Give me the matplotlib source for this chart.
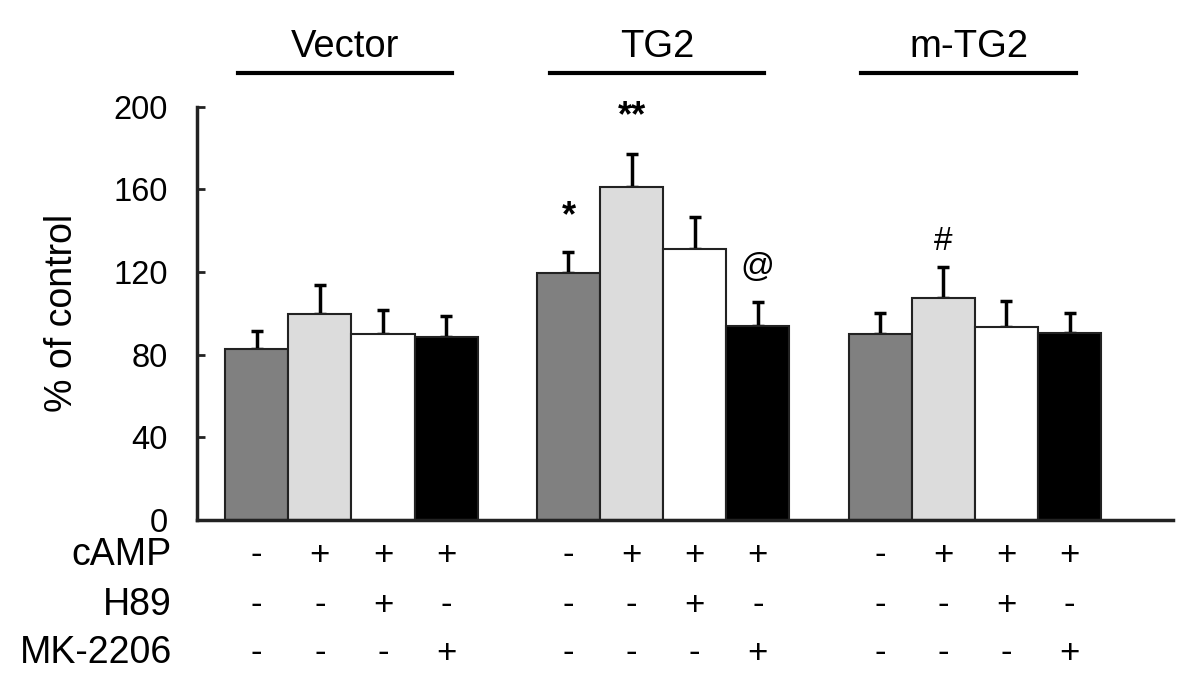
import numpy as np
import matplotlib.pyplot as plt
from matplotlib.transforms import blended_transform_factory

plt.rcParams['font.family'] = ['Liberation Sans', 'DejaVu Sans']

# Dados
groups = ['Vector', 'TG2', 'm-TG2']
means_vector = [82.6, 99.6, 89.9, 88.6]
means_tg2 = [119.6, 160.9, 131.2, 93.9]
means_mtg2 = [89.9, 107.4, 93.6, 90.7]
errs_vector = [8.8, 14.1, 11.7, 10.3]
errs_tg2 = [10.3, 16.2, 15.2, 11.8]
errs_mtg2 = [10.3, 15.0, 12.5, 9.5]

row_names = ['cAMP', 'H89', 'MK-2206']
camp = ['-', '+', '+', '+']
h89 = ['-', '-', '+', '-']
mk2206 = ['-', '-', '-', '+']

# marcas de significância: (grupo, barra, texto, y)
marks = [(1, 0, '*', 147), (1, 1, '**', 195), (1, 3, '@', 122), (2, 1, '#', 135)]

bar_colors = ['#808080', '#dcdcdc', '#ffffff', '#000000']
ax_color = '#222222'

means = [means_vector, means_tg2, means_mtg2]
errs = [errs_vector, errs_tg2, errs_mtg2]
step = 4.94

fig = plt.figure(figsize=(12, 6.84), dpi=100)
ax = fig.add_axes([0.164, 0.2398, 0.8135, 0.6042])

for g in range(3):
    x = g * step + np.arange(4)
    ax.bar(x, means[g], width=1.0, color=bar_colors, edgecolor=ax_color,
           linewidth=1.5, zorder=2)
    ax.errorbar(x, means[g], yerr=[np.zeros(4), errs[g]], fmt='none',
                ecolor='black', elinewidth=2.5, capsize=4, capthick=2.5,
                zorder=1)

# Marcas de significância
for g, i, txt, y in marks:
    if '*' in txt:
        ax.text(g * step + i, y, txt, ha='center', va='center', fontsize=26,
                fontweight='bold', clip_on=False)
    else:
        ax.text(g * step + i, y, txt, ha='center', va='center', fontsize=24,
                clip_on=False)

# Cabeçalhos dos grupos
trans = blended_transform_factory(ax.transData, fig.transFigure)
for g, name in enumerate(groups):
    c = g * step + 1.5 - 0.1
    ax.text(c, 1 - 46.7 / 684, name, transform=trans, ha='center',
            va='center', fontsize=27.5)
    ax.plot([c - 1.7, c + 1.7], [1 - 73 / 684] * 2, transform=trans,
            color='black', linewidth=3, clip_on=False)

# Tabela de tratamentos
row_y = [1 - 555 / 684, 1 - 605 / 684, 1 - 653 / 684]
for r, signs in enumerate([camp, h89, mk2206]):
    fig.text(172 / 1200, row_y[r], row_names[r], ha='right', va='center',
             fontsize=27)
    for g in range(3):
        for i, s in enumerate(signs):
            ax.text(g * step + i, row_y[r], s, transform=trans, ha='center',
                    va='center', fontsize=25)

# Ajustes do gráfico
ax.set_xlim(-0.95, 14.52)
ax.set_ylim(0, 200)
ax.set_yticks([0, 40, 80, 120, 160, 200])
ax.set_xticks([])
ax.tick_params(axis='y', direction='in', length=6, width=2, pad=21,
               labelsize=23.5, color=ax_color)
ax.spines['top'].set_visible(False)
ax.spines['right'].set_visible(False)
for s in ['left', 'bottom']:
    ax.spines[s].set_linewidth(2.5)
    ax.spines[s].set_color(ax_color)
ax.set_ylabel('% of control', fontsize=27)
ax.yaxis.set_label_coords(-0.12, 0.5)

fig.savefig('out.png', dpi=100)
